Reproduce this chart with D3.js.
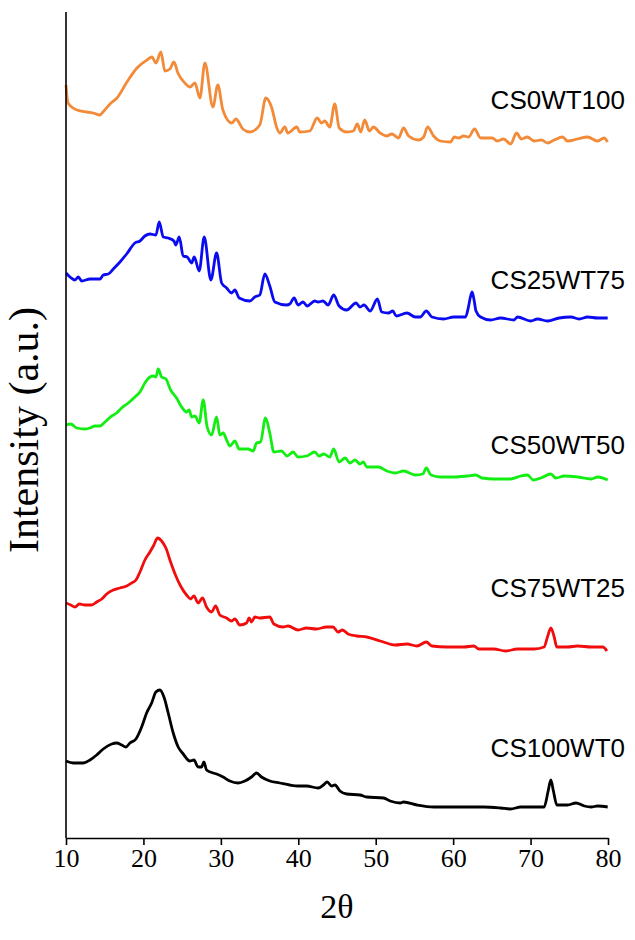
<!DOCTYPE html>
<html>
<head>
<meta charset="utf-8">
<script src="https://cdn.jsdelivr.net/npm/d3@7"></script>
<style>
  html, body { margin: 0; padding: 0; background: #fff; }
  svg { display: block; }
</style>
</head>
<body>
<div id="chart"></div>
<script>
// XRD patterns, [2θ, intensity (a.u., already stacked)]
var cs0wt100 = [[10.0,753],[10.26,735],[11.42,728],[12.71,726],[13.48,725],[14.39,723],[14.77,726],[15.68,734],[16.58,740],[17.87,756],[19.16,770],[20.45,778],[21.10,781],[21.61,775],[22.26,786],[22.77,767],[23.42,769],[23.94,776],[24.45,765],[25.35,755],[26.0,751],[26.65,755],[27.29,740],[27.94,775],[28.97,731],[29.61,753],[30.26,728],[31.42,715],[31.94,719],[32.84,709],[33.74,706],[35.03,713],[35.81,740],[36.58,730],[37.23,710],[37.61,705],[38.26,711],[38.65,705],[39.81,711],[40.19,706],[41.48,707],[42.44,720],[43.0,715],[43.42,717],[44.06,711],[44.71,734],[45.29,710],[46.26,706],[47.11,707],[47.63,714],[48.06,706],[48.58,718],[49.19,707],[49.70,711],[50.57,705],[51.42,702],[52.06,704],[52.52,702],[52.94,700],[53.6,710],[54.25,702],[55.54,698],[56.19,701],[56.71,711],[57.48,702],[58.35,697],[59.65,696],[60.17,701],[60.71,700],[61.35,702],[62.0,701],[62.76,709],[63.55,700],[64.19,700],[65.05,700],[65.7,697],[66.52,699],[67.42,694],[68.19,705],[68.81,699],[69.59,701],[70.45,697],[71.41,698],[72.19,695],[73.05,698],[74.13,701],[74.77,697],[76.06,699],[77.35,701],[78.65,697],[79.5,700],[79.94,696]];

var cs25wt75 = [[10.0,565],[10.52,561],[11.16,558],[11.59,561],[12.03,557],[13.10,559],[14.39,559],[14.82,563],[15.46,564],[16.11,569],[16.97,576],[17.83,584],[18.90,595],[19.55,597],[20.19,602],[20.84,604],[21.61,603],[22.04,616],[22.56,601],[23.20,600],[23.94,597],[24.19,593],[24.62,601],[25.14,582],[25.66,581],[26.22,575],[26.56,581],[27.20,567],[27.85,601],[28.71,558],[29.45,585],[30.10,555],[30.74,550],[31.38,545],[31.81,548],[32.37,540],[33.74,537],[34.39,541],[35.03,543],[35.68,564],[36.32,552],[36.97,536],[38.48,533],[38.90,534],[39.46,540],[39.98,533],[40.62,536],[41.14,532],[42.13,537],[42.55,536],[43.20,537],[43.85,533],[44.58,543],[45.27,532],[46.25,528],[47.46,535],[47.97,531],[48.49,533],[49.28,527],[50.22,539],[50.77,526],[51.65,525],[52.21,527],[52.65,522],[54.03,525],[55.11,521],[55.75,521],[56.53,527],[57.26,521],[58.77,519],[60.08,521],[61.59,521],[61.95,530],[62.2,540],[62.45,546],[62.7,538],[62.95,527],[63.54,521],[64.84,518],[66.13,520],[67.86,518],[68.30,521],[70.03,517],[70.89,519],[72.18,517],[73.69,520],[75.21,521],[76.28,519],[77.37,521],[78.67,520],[79.96,520]];

var cs50wt50 = [[10.0,413],[10.61,414],[11.38,410],[12.45,409],[13.10,410],[13.74,412],[14.39,412],[15.03,416],[15.90,422],[16.54,425],[17.19,430],[18.04,435],[18.90,441],[19.55,446],[20.19,455],[20.84,461],[21.26,462],[21.61,461],[21.91,469],[22.35,461],[22.90,459],[23.51,448],[24.28,440],[24.93,431],[25.57,426],[25.91,428],[26.22,421],[26.65,422],[27.20,415],[27.72,438],[28.23,411],[28.80,403],[29.45,421],[29.87,403],[30.30,405],[30.74,398],[31.16,392],[31.81,397],[32.36,389],[33.52,389],[34.17,387],[34.61,395],[35.12,396],[35.77,420],[36.32,405],[36.84,386],[37.83,387],[38.55,382],[39.33,386],[39.97,381],[41.06,382],[42.13,386],[42.68,382],[43.29,384],[44.06,381],[44.58,389],[45.26,376],[46.06,380],[46.68,375],[47.33,378],[47.97,374],[48.41,376],[48.84,371],[49.70,371],[50.35,371],[51.43,367],[52.52,365],[53.60,367],[55.11,363],[56.10,364],[56.53,370],[57.14,363],[58.35,361],[60.17,361],[61.81,362],[62.89,363],[63.75,360],[65.26,359],[67.42,359],[68.72,362],[69.59,363],[70.36,358],[71.32,360],[72.62,364],[73.26,360],[74.35,362],[76.06,361],[77.81,359],[78.67,361],[79.96,358]];

var cs75wt25 = [[10.0,235],[10.61,233],[11.16,231],[11.72,234],[12.45,233],[13.32,233],[13.96,236],[14.61,239],[15.25,244],[16.10,248],[16.97,250],[17.83,252],[18.48,255],[19.03,258],[19.55,266],[20.19,278],[20.84,286],[21.35,293],[21.83,300],[22.35,297],[22.90,290],[23.51,276],[24.19,262],[24.80,252],[25.57,243],[26.09,239],[26.52,242],[27.07,235],[27.63,240],[28.15,231],[28.80,226],[29.32,232],[29.87,223],[30.74,220],[31.38,217],[31.81,219],[32.45,213],[33.32,215],[33.65,220],[33.96,216],[34.39,221],[35.03,220],[36.32,221],[36.84,214],[38.04,211],[38.68,212],[39.97,208],[41.06,210],[42.35,209],[43.64,211],[44.49,211],[45.14,206],[45.70,208],[46.43,204],[47.55,202],[48.84,201],[50.57,197],[52.52,193],[54.03,194],[55.33,192],[56.53,196],[57.26,192],[59.21,191],[61.38,191],[62.67,192],[63.32,189],[65.26,189],[66.77,187],[68.30,189],[70.45,189],[71.75,191],[72.18,201],[72.62,210],[73.05,201],[73.39,191],[74.77,191],[76.06,192],[77.81,191],[79.32,191],[79.87,187]];

var cs100wt0 = [[10.0,77],[10.94,75],[12.23,75],[13.10,78],[13.96,83],[14.81,89],[15.90,94],[16.54,95],[17.19,93],[17.74,91],[18.26,95],[19.03,99],[19.77,111],[20.41,125],[21.06,135],[21.61,146],[22.13,148],[22.65,141],[23.20,125],[23.85,105],[24.49,91],[25.14,84],[26.0,77],[26.52,78],[27.07,71],[27.51,71],[27.81,76],[28.15,68],[29.01,65],[29.45,64],[30.30,61],[31.16,57],[32.23,55],[33.10,57],[33.96,61],[34.61,65],[35.25,61],[36.32,57],[37.61,55],[38.90,53],[39.97,52],[41.06,52],[42.57,50],[43.23,53],[43.74,56],[44.30,52],[44.74,53],[45.38,47],[46.25,44],[47.97,43],[48.84,41],[51.01,40],[51.87,37],[53.16,35],[53.60,36],[55.33,33],[57.48,31],[59.65,31],[61.81,31],[63.97,31],[66.13,30],[67.42,29],[68.72,31],[70.45,31],[71.75,31],[72.27,47],[72.62,58],[72.95,47],[73.39,33],[74.77,33],[75.86,35],[76.94,32],[77.81,31],[78.67,32],[79.96,31]];

var sampleNames = ["CS0WT100", "CS25WT75", "CS50WT50", "CS75WT25", "CS100WT0"];
var xTicks = [10, 20, 30, 40, 50, 60, 70, 80];

// layout
var width = 635, height = 940;
var margin = { left: 66, right: 27, top: 12, bottom: 102 };
var colors = ["#F28A38", "#0B0BF2", "#12EE12", "#F20D0D", "#000000"];
var labelX = 625;
var labelY = [109, 289, 454, 597, 757];
var serif = "'Liberation Serif', 'Times New Roman', serif";

var series = [cs0wt100, cs25wt75, cs50wt50, cs75wt25, cs100wt0];

var svg = d3.select("#chart").append("svg")
    .attr("width", width)
    .attr("height", height);

var x = d3.scaleLinear()
    .domain([10, 80])
    .range([margin.left, width - margin.right]);
var y = d3.scaleLinear()
    .domain([0, height - margin.top - margin.bottom])
    .range([height - margin.bottom, margin.top]);

// curves
var line = d3.line()
    .curve(d3.curveMonotoneX)
    .x(d => x(d[0]))
    .y(d => y(d[1]));

svg.selectAll("path.xrd")
    .data(series)
    .enter()
    .append("path")
    .attr("class", "xrd")
    .attr("d", line)
    .attr("fill", "none")
    .attr("stroke", (d, i) => colors[i])
    .attr("stroke-width", 2.8)
    .attr("stroke-linejoin", "round");

// x axis
var xAxis = d3.axisBottom(x)
    .tickValues(xTicks)
    .tickSize(7)
    .tickSizeOuter(0)
    .tickPadding(4);
var gx = svg.append("g")
    .attr("transform", "translate(0," + y(0) + ")")
    .call(xAxis);
gx.select(".domain").attr("stroke", "#000").attr("stroke-width", 1.6);
gx.selectAll(".tick line").attr("stroke", "#000").attr("stroke-width", 1.6);
gx.selectAll(".tick text")
    .attr("font-family", serif)
    .attr("font-size", 26)
    .attr("fill", "#000");

// y axis (line only)
svg.append("line")
    .attr("x1", x(10)).attr("x2", x(10))
    .attr("y1", margin.top).attr("y2", y(0))
    .attr("stroke", "#000")
    .attr("stroke-width", 1.6);

// axis titles
svg.append("text")
    .attr("x", (x(10) + x(80)) / 2)
    .attr("y", 918)
    .attr("text-anchor", "middle")
    .attr("font-family", serif)
    .attr("font-size", 34)
    .text("2θ");

svg.append("text")
    .attr("transform", "translate(38,430) rotate(-90)")
    .attr("text-anchor", "middle")
    .attr("font-family", serif)
    .attr("font-size", 42)
    .text("Intensity (a.u.)");

// sample labels
svg.selectAll("text.sample")
    .data(sampleNames)
    .enter()
    .append("text")
    .attr("class", "sample")
    .attr("x", labelX)
    .attr("y", (d, i) => labelY[i])
    .attr("text-anchor", "end")
    .attr("font-family", "'Liberation Sans', Arial, sans-serif")
    .attr("font-size", 26)
    .attr("fill", "#000")
    .text(d => d);
</script>
</body>
</html>
